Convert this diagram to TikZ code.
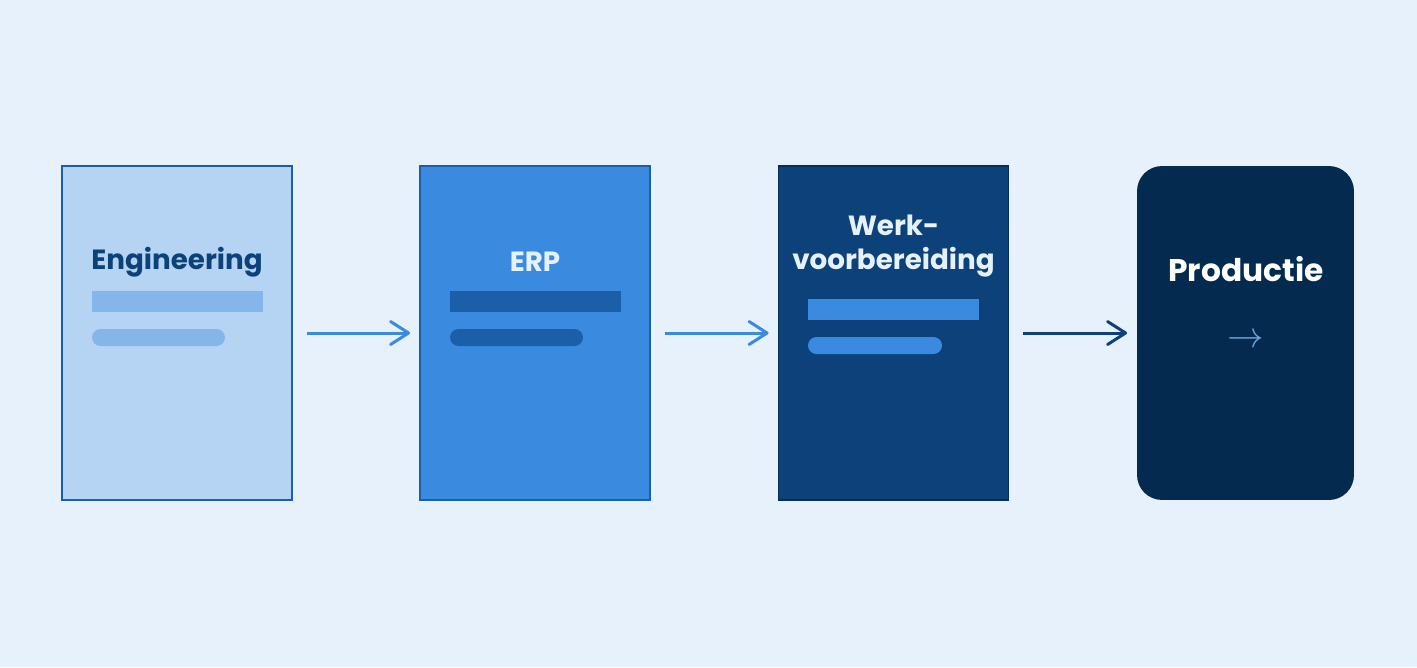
\documentclass[tikz,border=0pt]{standalone}
\usepackage{fontspec}
\setmainfont{Poppins}
\usetikzlibrary{arrows.meta,positioning}

\definecolor{bgblue}{HTML}{E7F1FB}
\definecolor{paleblue}{HTML}{B5D4F3}
\definecolor{barpale}{HTML}{85B6EA}
\definecolor{midblue}{HTML}{3A8BDF}
\definecolor{edgeblue}{HTML}{1A5FA8}
\definecolor{deepblue}{HTML}{0C417A}
\definecolor{deepedge}{HTML}{072E57}
\definecolor{navyblue}{HTML}{042A50}
\definecolor{tipblue}{HTML}{6FA4DC}

\tikzset{
  stage/.style={rectangle, minimum width=4.6cm, minimum height=6.68cm, line width=1.1pt},
  title/.style={font=\fontsize{15.8}{19.5}\selectfont\bfseries, align=center, inner sep=0pt},
  flow/.style={line width=1.7pt, -{Straight Barb[length=3.6mm, width=4.6mm, line join=round, line cap=round]}, shorten <=0.28cm, shorten >=0.18cm}
}

\begin{document}
\begin{tikzpicture}[x=0.02cm, y=-0.02cm]
		%%%%% START %%%%%
		
		\fill[bgblue] (0, 0) rectangle (1417, 667);
		
		\node[stage, fill=paleblue, draw=edgeblue] (engineering) at (177, 333) {};
		\node[stage, fill=midblue, draw=edgeblue] (erp) at (535, 333) {};
		\node[stage, fill=deepblue, draw=deepedge] (werkvb) at (893.5, 333) {};
		\node[stage, fill=navyblue, minimum width=4.34cm, rounded corners=0.5cm] (productie) at (1245.5, 333) {};
		
		\node[title, text=deepblue] (engtitle) at (177, 262) {Engineering};
		\fill[barpale] (92, 291) rectangle (263, 312);
		\fill[barpale, rounded corners=0.17cm] (92, 329) rectangle (225, 346);
		
		\node[title, text=bgblue] (erptitle) at (535, 262) {ERP};
		\fill[edgeblue] (450, 291) rectangle (621, 312);
		\fill[edgeblue, rounded corners=0.17cm] (450, 329) rectangle (583, 346);
		
		\node[title, text=bgblue] (werktitle) at (893.5, 246) {Werk-\\voorbereiding};
		\fill[midblue] (808, 299) rectangle (979, 320);
		\fill[midblue, rounded corners=0.17cm] (808, 337) rectangle (942, 354);
		
		\node[title, text=white, font=\fontsize{17.8}{20}\selectfont\bfseries] (prodtitle) at (1246, 269) {Productie};
		\node[text=tipblue, font=\fontsize{20}{20}\selectfont, inner sep=0pt] (prodtip) at (1246, 341) {$\rightarrow$};
		
		\draw[flow, midblue] (engineering.east) -- (erp.west);
		\draw[flow, midblue] (erp.east) -- (werkvb.west);
		\draw[flow, deepblue] (werkvb.east) -- (productie.west);
		
		%%%%% END %%%%%
	\end{tikzpicture}
\end{document}
